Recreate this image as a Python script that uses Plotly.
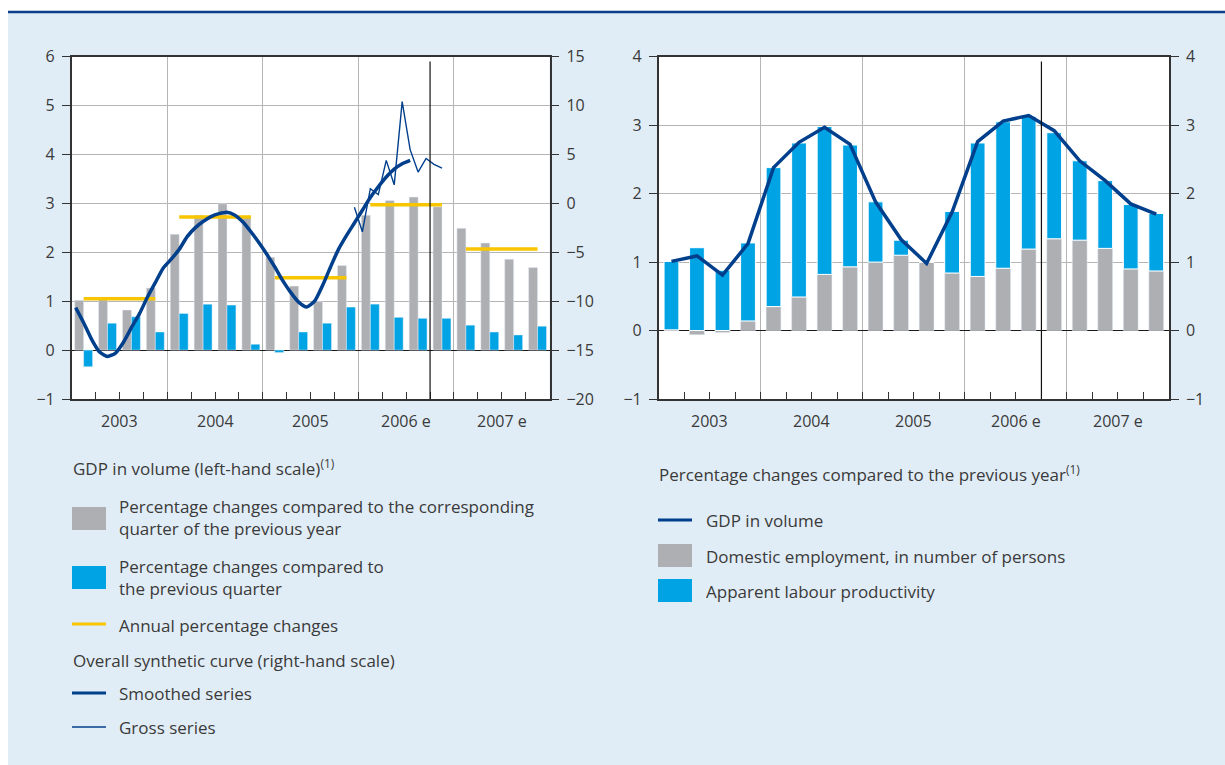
import numpy as np
import plotly.graph_objects as go

W, H = 1225, 765

# ---------------- data ----------------
years = ['2003', '2004', '2005', '2006 e', '2007 e']
quarters = np.arange(20)

# left chart, left-hand scale (%)
gdp_yoy = [1.02, 1.07, 0.82, 1.27, 2.37, 2.76, 2.99, 2.74, 1.90, 1.31,
           0.99, 1.73, 2.76, 3.06, 3.13, 2.93, 2.49, 2.19, 1.86, 1.69]
gdp_qoq = [-0.34, 0.55, 0.68, 0.37, 0.75, 0.94, 0.92, 0.12, -0.05, 0.37,
           0.55, 0.88, 0.94, 0.67, 0.65, 0.65, 0.51, 0.37, 0.31, 0.49]
gdp_annual = [1.05, 2.72, 1.48, 2.97, 2.07]

# left chart, right-hand scale: monthly from Jan 2003
smoothed = [-10.65, -12.2, -13.9, -15.2, -15.65, -15.3, -14.2, -12.7, -11.3, -9.6,
            -8.1, -6.6, -5.7, -4.7, -3.4, -2.5, -1.85, -1.35, -1.05, -0.9,
            -1.2, -1.9, -2.9, -4.0, -5.2, -6.5, -7.9, -9.1, -10.1, -10.6,
            -10.0, -8.4, -6.5, -4.7, -3.3, -2.0, -0.7, 0.6, 1.7, 2.7,
            3.5, 4.05, 4.4]
gross_start = 35  # Dec 2005
gross = [-0.4, -2.9, 1.5, 0.9, 4.4, 1.9, 10.4, 5.5, 3.2, 4.6, 4.0, 3.6]

# right chart (%)
gdp_volume = [1.01, 1.09, 0.81, 1.27, 2.38, 2.75, 2.97, 2.72, 1.88, 1.33,
              0.98, 1.73, 2.76, 3.06, 3.14, 2.92, 2.48, 2.19, 1.85, 1.70]
employment = [0.01, -0.06, -0.03, 0.14, 0.35, 0.49, 0.82, 0.93, 1.00, 1.10,
              1.00, 0.84, 0.79, 0.91, 1.19, 1.34, 1.32, 1.20, 0.90, 0.87]
productivity = [1.00, 1.21, 0.88, 1.14, 2.03, 2.25, 2.16, 1.78, 0.88, 0.22,
                0.00, 0.90, 1.95, 2.14, 1.94, 1.55, 1.16, 0.99, 0.94, 0.84]

forecast_from = 15  # 2006 Q4

GREY = '#AEAFB3'
CYAN = '#00A3E4'
NAVY = '#003F8C'
YELLOW = '#F8C600'
TXT = '#3A3A3A'
GRID = '#B5B5B5'
AXIS = '#333333'
BG = '#E1EDF6'
FONT = 'Open Sans'


def px(x):
    return x / W


def py(y):
    return 1 - y / H


fig = go.Figure()

# ---- left chart
fig.add_bar(x=quarters, y=gdp_yoy, width=0.375, offset=-0.375,
            marker_color=GREY, xaxis='x', yaxis='y')
fig.add_bar(x=quarters, y=gdp_qoq, width=0.375, offset=0,
            marker_color=CYAN, xaxis='x', yaxis='y')

ann_x, ann_y = [], []
for k, v in enumerate(gdp_annual):
    ann_x += [4 * k, 4 * k + 3, None]
    ann_y += [v, v, None]
fig.add_scatter(x=ann_x, y=ann_y, mode='lines', line=dict(color=YELLOW, width=3.5),
                xaxis='x', yaxis='y')

month_x = -0.5 + (np.arange(len(smoothed)) + 0.5) / 3
fig.add_scatter(x=month_x, y=smoothed, mode='lines',
                line=dict(color=NAVY, width=3.5, shape='spline', smoothing=0.6),
                xaxis='x', yaxis='y2')
gross_x = -0.5 + (np.arange(gross_start, gross_start + len(gross)) + 0.5) / 3
fig.add_scatter(x=gross_x, y=gross, mode='lines', line=dict(color=NAVY, width=1.4),
                xaxis='x', yaxis='y2')

# ---- right chart
fig.add_bar(x=quarters, y=employment, width=0.58, offset=-0.29,
            marker_color=GREY, xaxis='x3', yaxis='y3')
fig.add_bar(x=quarters, y=productivity, base=np.maximum(employment, 0),
            width=0.58, offset=-0.29, marker_color=CYAN,
            marker_line=dict(color='white', width=1), xaxis='x3', yaxis='y3')
fig.add_scatter(x=quarters, y=gdp_volume, mode='lines', line=dict(color=NAVY, width=3.5),
                xaxis='x3', yaxis='y4')

# ---- axes
dom_y = [py(399), py(56.7)]
xcommon = dict(range=[-0.5, 19.5], tickmode='linear', tick0=-0.5, dtick=4,
               showgrid=True, gridcolor=GRID, gridwidth=1,
               ticks='inside', ticklen=7, tickcolor=AXIS, showticklabels=False,
               minor=dict(tick0=-0.5, dtick=1, ticks='inside', ticklen=7,
                          tickcolor=AXIS, showgrid=False),
               showline=True, linecolor=AXIS, linewidth=1.5, mirror=True,
               zeroline=False, fixedrange=True, automargin=False)
ycommon = dict(tickmode='linear', ticks='outside', ticklen=8, tickcolor=AXIS,
               showline=True, linecolor=AXIS, linewidth=1.5, automargin=False,
               tickfont=dict(size=16, color=TXT), ticklabelstandoff=4)

fig.update_layout(
    xaxis=dict(domain=[px(71.7), px(549.5)], anchor='y', **xcommon),
    yaxis=dict(domain=dom_y, anchor='x', range=[-1, 6], dtick=1,
               showgrid=True, gridcolor=GRID, zeroline=True,
               zerolinecolor='#1A1A1A', zerolinewidth=1.4, **ycommon),
    yaxis2=dict(overlaying='y', anchor='x', side='right', range=[-20, 15], dtick=5,
                showgrid=False, zeroline=False, **ycommon),
    xaxis3=dict(domain=[px(658.7), px(1169)], anchor='y3', **xcommon),
    yaxis3=dict(domain=dom_y, anchor='x3', range=[-1, 4], dtick=1,
                showgrid=True, gridcolor=GRID, zeroline=True,
                zerolinecolor='#1A1A1A', zerolinewidth=1.4, **ycommon),
    yaxis4=dict(overlaying='y3', anchor='x3', side='right', range=[-1, 4], dtick=1,
                showgrid=False, zeroline=False, **ycommon),
)

annotations = []
shapes = []

# year labels under both charts
for xa in ['x', 'x3']:
    for k, yr in enumerate(years):
        annotations.append(dict(x=4 * k + 1.5, y=py(421), xref=xa, yref='paper',
                                text=yr, showarrow=False, yanchor='middle',
                                font=dict(size=16, color=TXT)))
    shapes.append(dict(type='line', xref=xa, yref='paper',
                       x0=forecast_from - 0.5, x1=forecast_from - 0.5,
                       y0=py(399), y1=py(61.5), line=dict(color='#111111', width=1.2)))

# page frame: white strip + navy rule on top
shapes.append(dict(type='rect', xref='paper', yref='paper', x0=0, x1=1, y0=py(11), y1=1,
                   fillcolor='white', line_width=0, layer='below'))
shapes.append(dict(type='rect', xref='paper', yref='paper', x0=0, x1=px(8), y0=0, y1=1,
                   fillcolor='white', line_width=0, layer='below'))
shapes.append(dict(type='line', xref='paper', yref='paper', x0=px(8), x1=1,
                   y0=py(12), y1=py(12), line=dict(color='#0B3E8A', width=2.5)))


def text(x, y, s, size=17):
    annotations.append(dict(x=px(x), y=py(y), xref='paper', yref='paper', text=s,
                            showarrow=False, xanchor='left', yanchor='middle', align='left',
                            font=dict(size=size, color=TXT)))


def swatch(x, y0, y1, color):
    shapes.append(dict(type='rect', xref='paper', yref='paper', x0=px(x), x1=px(x + 34),
                       y0=py(y1), y1=py(y0), fillcolor=color, line_width=0))


def stroke(x, y, color, width):
    shapes.append(dict(type='line', xref='paper', yref='paper', x0=px(x), x1=px(x + 34),
                       y0=py(y), y1=py(y), line=dict(color=color, width=width)))


# left legend
text(71, 467, 'GDP in volume (left-hand scale)<sup>(1)</sup>')
swatch(72, 507, 530, GREY)
text(117, 517, 'Percentage changes compared to the corresponding<br>quarter of the previous year')
swatch(72, 566, 589, CYAN)
text(117, 577, 'Percentage changes compared to<br>the previous quarter')
stroke(72, 624, YELLOW, 3)
text(117, 625, 'Annual percentage changes')
text(71, 660, 'Overall synthetic curve (right-hand scale)')
stroke(72, 693, NAVY, 3)
text(117, 693, 'Smoothed series')
stroke(72, 727, NAVY, 1.3)
text(117, 727, 'Gross series')

# right legend
text(657, 473, 'Percentage changes compared to the previous year<sup>(1)</sup>')
stroke(658, 520, NAVY, 3)
text(704, 520, 'GDP in volume')
swatch(658, 544, 567, GREY)
text(704, 556, 'Domestic employment, in number of persons')
swatch(658, 579, 602, CYAN)
text(704, 591, 'Apparent labour productivity')

fig.update_layout(
    width=W, height=H, margin=dict(l=0, r=0, t=0, b=0, pad=0, autoexpand=False),
    paper_bgcolor=BG, plot_bgcolor='white',
    barmode='overlay', showlegend=False,
    font=dict(family=FONT, color=TXT),
    annotations=annotations, shapes=shapes,
)

fig.write_html("out.html", config={'responsive': False, 'displayModeBar': False},
               post_script="document.body.style.margin='0';document.body.style.overflow='hidden';")
